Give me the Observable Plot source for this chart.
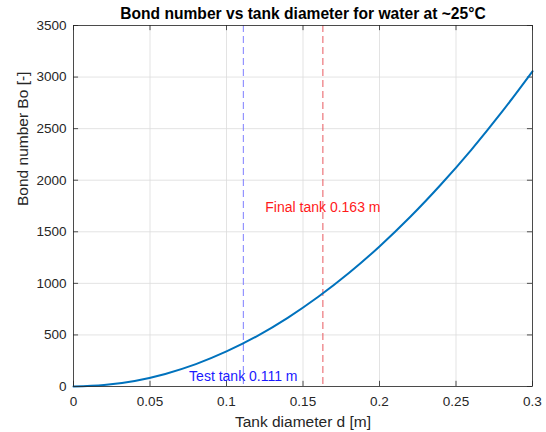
<!DOCTYPE html>
<html>
<head>
<meta charset="utf-8">
<script src="https://cdn.jsdelivr.net/npm/d3@7"></script>
<script src="https://cdn.jsdelivr.net/npm/@observablehq/plot@0.6"></script>
<style>
  html, body { margin: 0; padding: 0; background: #fff; }
  #chart svg { display: block; }
  #chart svg [aria-label$="tick label"] { font-size: 13.5px; }
</style>
</head>
<body>
<div id="chart"></div>
<script>
// Tank diameter d [m] and the matching Bond number Bo [-]
const diameters = [0, 0.02, 0.04, 0.06, 0.08, 0.10, 0.12, 0.14, 0.16, 0.18, 0.20, 0.22, 0.24, 0.26, 0.28, 0.30];
const bondNumbers = [0, 14, 54, 122, 217, 340, 489, 666, 870, 1100, 1358, 1643, 1956, 2295, 2662, 3056];

// Marked tanks
const tankNames = ["Test tank", "Final tank"];
const tankDiameters = [0.111, 0.163];
const tankLabelBo = [100, 1740];

const xTicks = [0, 0.05, 0.1, 0.15, 0.2, 0.25, 0.3];
const yTicks = [0, 500, 1000, 1500, 2000, 2500, 3000, 3500];

const curve = diameters.map((d, i) => ({d, bo: bondNumbers[i]}));
const tanks = tankNames.map((name, i) => ({
  name, d: tankDiameters[i], labelBo: tankLabelBo[i],
  text: `${name} ${tankDiameters[i].toFixed(3)} m`
}));
const tankLine = ["#7f7fff", "#e8595f"];
const tankText = ["#1a1aff", "#ff1a1a"];

const font = "'Liberation Sans', Arial, Helvetica, sans-serif";
const axisColor = "#262626";

const chart = Plot.plot({
  width: 546,
  height: 432,
  marginTop: 25,
  marginBottom: 46,
  marginLeft: 73,
  marginRight: 14,
  style: {fontFamily: font, color: axisColor, background: "#fff"},
  x: {domain: [0, 0.3], label: null},
  y: {domain: [0, 3500], label: null},
  marks: [
    Plot.gridX(xTicks, {stroke: "#dcdcdc", strokeOpacity: 1, strokeWidth: 0.8}),
    Plot.gridY(yTicks, {stroke: "#dcdcdc", strokeOpacity: 1, strokeWidth: 0.8}),
    Plot.axisX(xTicks, {tickSize: 0, tickPadding: 10, tickFormat: d => String(+d.toFixed(2)), fill: axisColor}),
    Plot.axisY(yTicks, {tickSize: 0, tickPadding: 7, tickFormat: d => String(d), fill: axisColor}),
    // inward tick marks on all four sides
    Plot.ruleX(xTicks, {x: d => d, y1: 0, y2: 50, stroke: axisColor, strokeWidth: 0.8}),
    Plot.ruleX(xTicks, {x: d => d, y1: 3450, y2: 3500, stroke: axisColor, strokeWidth: 0.8}),
    Plot.ruleY(yTicks, {y: d => d, x1: 0, x2: 0.0033, stroke: axisColor, strokeWidth: 0.8}),
    Plot.ruleY(yTicks, {y: d => d, x1: 0.2967, x2: 0.3, stroke: axisColor, strokeWidth: 0.8}),
    Plot.ruleX(tanks, {x: "d", stroke: (d, i) => tankLine[i], strokeWidth: 1, strokeDasharray: "7,4"}),
    Plot.line(curve, {x: "d", y: "bo", stroke: "#0072BD", strokeWidth: 2, curve: "catmull-rom"}),
    Plot.text(tanks, {x: "d", y: "labelBo", text: "text", fill: (d, i) => tankText[i], fontSize: 14, textAnchor: "middle"}),
    Plot.frame({stroke: axisColor, strokeWidth: 0.8}),
    Plot.text(["Bond number vs tank diameter for water at ~25°C"], {frameAnchor: "top", lineAnchor: "middle", dy: -12, fontWeight: "bold", fontSize: 15.6, fill: "#000"}),
    Plot.text(["Tank diameter d [m]"], {frameAnchor: "bottom", lineAnchor: "middle", dy: 36, fontSize: 15.5, fill: axisColor}),
    Plot.text(["Bond number Bo [-]"], {frameAnchor: "left", dx: -50, rotate: -90, fontSize: 15.5, fill: axisColor})
  ]
});

document.getElementById("chart").appendChild(chart);
</script>
</body>
</html>
